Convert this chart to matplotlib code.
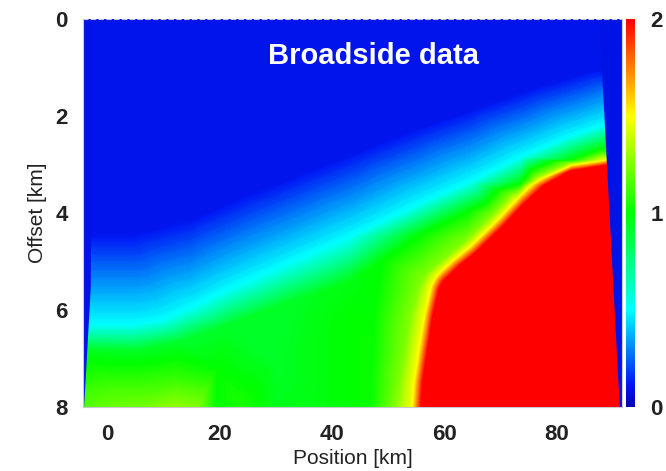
import numpy as np
import matplotlib
matplotlib.use("Agg")
import matplotlib.pyplot as plt
import matplotlib.tri as mtri
from matplotlib.cm import ScalarMappable
from matplotlib.colors import LinearSegmentedColormap, Normalize

plt.rcParams["font.family"] = ["Liberation Sans", "DejaVu Sans"]
plt.rcParams["font.weight"] = "bold"

# ── Data (position km, offset km, value) ──────────────────────────────────────
# top edge of the section, uniform blue
top_pos = [-4.3, 20, 45, 70, 91.6]
top_off = [0.0, 0.0, 0.0, 0.0, 0.0]
top_val = [0.1, 0.1, 0.1, 0.1, 0.1]

# where the blue starts to lighten
blue_pos = [-4.3, 5, 15, 25, 35, 45, 55, 65, 75, 85, 91.6]
blue_off = [4.4, 4.4, 4.1, 3.6, 3.15, 2.7, 2.25, 1.85, 1.45, 1.1, 0.95]
blue_val = [0.1, 0.1, 0.1, 0.1, 0.1, 0.1, 0.1, 0.1, 0.1, 0.1, 0.1]

# cyan band
cyan_pos = [-4.3, 5, 10, 15, 22, 31, 43, 55.8, 64.7, 73.6, 82.5, 87.8, 91.6]
cyan_off = [6.3, 6.3, 6.2, 5.95, 5.55, 5.1, 4.5, 3.8, 3.35, 2.85, 2.42, 2.21, 2.05]
cyan_val = [0.5, 0.5, 0.5, 0.5, 0.5, 0.5, 0.5, 0.5, 0.5, 0.5, 0.5, 0.5, 0.5]

# top of the green band
green_pos = [-4.3, 5, 13.5, 22, 31, 43, 49, 55.8, 64.7, 73.6, 82.5, 87.8, 91.6]
green_off = [6.85, 6.85, 6.65, 6.3, 5.9, 5.45, 5.0, 4.45, 3.95, 3.4, 2.92, 2.7, 2.6]
green_val = [0.95, 0.93, 0.92, 0.92, 0.92, 0.97, 1.0, 1.0, 1.0, 1.0, 1.0, 1.0, 1.0]

# inside of the green region, far offsets
mid_pos = [-4.3, 0, 6, 12, 19.5, 30, 43, 47.5, 43, 47.5]
mid_off = [7.5, 7.5, 7.4, 7.4, 7.2, 7.1, 7.0, 7.0, 6.2, 6.0]
mid_val = [1.08, 1.1, 1.08, 1.1, 1.0, 0.93, 1.0, 1.02, 1.0, 1.0]

bottom_pos = [-4.3, 0, 6, 12, 16, 19.5, 24, 30, 37, 43, 47]
bottom_off = [8.0, 8.0, 8.0, 8.0, 8.0, 8.0, 8.0, 8.0, 8.0, 8.0, 8.0]
bottom_val = [1.15, 1.2, 1.22, 1.28, 1.25, 1.0, 1.05, 0.95, 0.97, 1.0, 1.02]

# yellow-green, yellow and red front
ygreen_pos = [91.6, 89.0, 82.3, 76.4, 71.9, 68.6, 63.7, 60.5, 58.3, 56.5, 55.4, 54.0, 53.0, 52.0, 51.2]
ygreen_off = [2.83, 2.85, 2.97, 3.26, 3.63, 4.04, 4.59, 4.89, 5.1, 5.3, 5.55, 6.1, 6.8, 7.5, 8.0]
ygreen_val = [1.25, 1.25, 1.25, 1.25, 1.25, 1.25, 1.25, 1.25, 1.25, 1.25, 1.25, 1.25, 1.25, 1.25, 1.25]

yellow_pos = [91.6, 88.8, 82.3, 77.0, 72.9, 69.6, 64.7, 61.5, 59.8, 58.6, 57.8, 56.6, 55.6, 54.7, 54.4]
yellow_off = [2.9, 2.92, 3.05, 3.33, 3.74, 4.15, 4.7, 5.0, 5.18, 5.33, 5.5, 6.1, 6.8, 7.5, 8.0]
yellow_val = [1.5, 1.5, 1.5, 1.5, 1.5, 1.5, 1.5, 1.5, 1.5, 1.5, 1.5, 1.5, 1.5, 1.5, 1.5]

front_pos = [91.6, 89.0, 82.5, 77.7, 73.9, 70.6, 65.7, 62.5, 60.9, 59.8, 59.1, 58.0, 57.1, 56.2, 55.9,
             91.6, 75.0]
front_off = [2.99, 3.02, 3.14, 3.45, 3.86, 4.27, 4.82, 5.12, 5.3, 5.42, 5.58, 6.13, 6.81, 7.5, 8.0,
             8.0, 6.0]
front_val = [2.0, 2.0, 2.0, 2.0, 2.0, 2.0, 2.0, 2.0, 2.0, 2.0, 2.0, 2.0, 2.0, 2.0, 2.0,
             2.0, 2.0]

# edges of the data coverage (outside is blank = blue)
left_edge_pos = [-2.9, -2.9, -4.1]
left_edge_off = [0.0, 5.5, 8.0]
right_edge_pos = [87.6, 88.1, 91.2]
right_edge_off = [0.0, 1.2, 8.0]
blank_val = 0.1

XLIM = (-4.3, 91.6)
YLIM = (8, 0)

# ── Colour map: blue - cyan - green - yellow - red ───────────────────────────
cmap = LinearSegmentedColormap.from_list("rb", [
    (0.0, "#0000b4"), (0.06, "#0018f5"), (0.25, "#00ffff"),
    (0.5, "#00ff00"), (0.75, "#ffff00"), (1.0, "#ff0000"),
])
norm = Normalize(0, 2)

xs = np.concatenate([top_pos, blue_pos, cyan_pos, green_pos, mid_pos, bottom_pos,
                     ygreen_pos, yellow_pos, front_pos]).astype(float)
ys = np.concatenate([top_off, blue_off, cyan_off, green_off, mid_off, bottom_off,
                     ygreen_off, yellow_off, front_off]).astype(float)
zs = np.concatenate([top_val, blue_val, cyan_val, green_val, mid_val, bottom_val,
                     ygreen_val, yellow_val, front_val]).astype(float)

# triangulate in screen-like units so thin bands connect neighbour lines
tri = mtri.Triangulation(xs, ys, mtri.Triangulation(xs * 5.6, ys * 48.5).triangles)

fig = plt.figure(figsize=(6.66, 4.71), dpi=100)
ax = fig.add_axes([83 / 666, 64 / 471, 539 / 666, 388 / 471])
cax = fig.add_axes([626 / 666, 64 / 471, 9 / 666, 388 / 471])

ax.tricontourf(tri, zs, levels=np.linspace(0, 2.0, 201), cmap=cmap, norm=norm,
               extend="both")

blank = cmap(norm(blank_val))
ax.fill([XLIM[0]] + left_edge_pos + [XLIM[0]],
        [left_edge_off[0]] + left_edge_off + [left_edge_off[-1]],
        color=blank, lw=0)
ax.fill([XLIM[1]] + right_edge_pos + [XLIM[1]],
        [right_edge_off[0]] + right_edge_off + [right_edge_off[-1]],
        color=blank, lw=0)

ax.set_xlim(*XLIM)
ax.set_ylim(*YLIM)
ax.set_xticks([0, 20, 40, 60, 80])
ax.set_yticks([0, 2, 4, 6, 8])
ax.tick_params(length=0, labelsize=16, labelcolor="#222222")
ax.tick_params(axis="x", pad=12)
ax.tick_params(axis="y", pad=11)
for s in ax.spines.values():
    s.set_color("#c8c8d2")
    s.set_linewidth(0.8)
ax.spines["top"].set_linestyle((0, (4, 3)))

ax.set_xlabel("Position [km]", fontsize=15, labelpad=3, color="#222222")
ax.set_ylabel("Offset [km]", fontsize=15, labelpad=6, color="#222222")

ax.text(47.4, 0.77, "Broadside data", color="white", fontsize=21,
        ha="center", va="center", fontweight="bold")

cb = fig.colorbar(ScalarMappable(norm=norm, cmap=cmap), cax=cax, ticks=[0, 1, 2])
cb.outline.set_visible(False)
cax.tick_params(length=0, labelsize=16, pad=11, labelcolor="#222222")

fig.savefig("out.png", dpi=100)
